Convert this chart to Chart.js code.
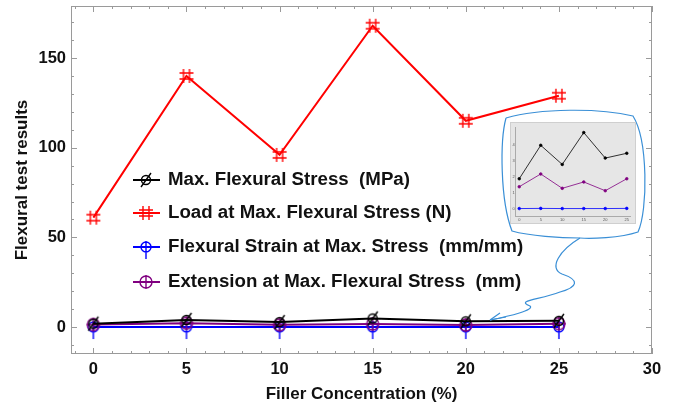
<!DOCTYPE html>
<html>
<head>
<meta charset="utf-8">
<script src="https://cdn.jsdelivr.net/npm/chart.js@4.4.0/dist/chart.umd.min.js"></script>
<style>
  body { margin: 0; background: #fff; }
  #wrap { position: relative; width: 675px; height: 407px; }
  #inset { position: absolute; left: 510px; top: 122px; width: 126px; height: 102px; background: #e6e6e6; border: 1px solid #cfcfcf; box-sizing: border-box; }
</style>
</head>
<body>
<div id="wrap">
  <canvas id="main" width="675" height="407"></canvas>
  <div id="inset"><canvas id="mini"></canvas></div>
</div>
<script>
const concentration = [0, 5, 10, 15, 20, 25];
const maxStress = [1.9, 4.0, 2.8, 4.8, 3.2, 3.5];
const loadAtMax = [61, 140, 96, 168, 115, 129];
const strainAtMax = [0.03, 0.04, 0.03, 0.03, 0.03, 0.04];
const extension = [1.4, 2.2, 1.3, 1.7, 1.15, 1.9];
const xTicks = [0, 5, 10, 15, 20, 25, 30];
const yTicks = [0, 50, 100, 150];
const seriesNames = [
  "Max. Flexural Stress  (MPa)",
  "Load at Max. Flexural Stress (N)",
  "Flexural Strain at Max. Stress  (mm/mm)",
  "Extension at Max. Flexural Stress  (mm)"
];

const font = "'Liberation Sans', Arial, sans-serif";

function makeMarker(kind, color) {
  const c = document.createElement("canvas");
  c.width = 18; c.height = kind === "phi" ? 30 : 18;
  const g = c.getContext("2d");
  const cx = 9, cy = c.height / 2;
  g.strokeStyle = color;
  g.lineWidth = 1.4;
  g.beginPath();
  if (kind === "slash") {
    g.arc(cx, cy, 4.5, 0, Math.PI * 2);
    g.moveTo(cx - 5, cy + 7); g.lineTo(cx + 5, cy - 7);
  } else if (kind === "hash") {
    g.moveTo(cx - 3, cy - 7); g.lineTo(cx - 3, cy + 7);
    g.moveTo(cx + 3, cy - 7); g.lineTo(cx + 3, cy + 7);
    g.moveTo(cx - 7, cy - 3); g.lineTo(cx + 7, cy - 3);
    g.moveTo(cx - 7, cy + 3); g.lineTo(cx + 7, cy + 3);
  } else if (kind === "phi") {
    g.arc(cx, cy, 5, 0, Math.PI * 2);
    g.moveTo(cx, cy - 6); g.lineTo(cx, cy + 12);
  } else {
    g.arc(cx, cy, 6, 0, Math.PI * 2);
    g.moveTo(cx - 7, cy); g.lineTo(cx + 7, cy);
    g.moveTo(cx, cy - 7); g.lineTo(cx, cy + 7);
  }
  g.stroke();
  return c;
}

const colors = ["#000000", "#ff0000", "#0000ff", "#800080"];
const drawOrder = [0, 1, 3, 2];
const markers = [
  makeMarker("slash", colors[0]),
  makeMarker("hash", colors[1]),
  makeMarker("phi", colors[2]),
  makeMarker("plus", colors[3])
];
const values = [maxStress, loadAtMax, strainAtMax, extension];

// frame, inward ticks, legend and callout
const decor = {
  id: "decor",
  afterDraw(chart) {
    const ctx = chart.ctx;
    const a = chart.chartArea;
    const xs = chart.scales.x, ys = chart.scales.y;
    ctx.save();
    ctx.strokeStyle = "#9a9a9a";
    ctx.lineWidth = 1;
    ctx.strokeRect(a.left + 0.5, a.top + 0.5, a.right - a.left - 1, a.bottom - a.top - 1);
    ctx.beginPath();
    for (let v = -1; v <= 30; v++) {
      const px = Math.round(xs.getPixelForValue(v)) + 0.5;
      const len = v % 5 === 0 ? 6 : 3;
      ctx.moveTo(px, a.bottom); ctx.lineTo(px, a.bottom - len);
      ctx.moveTo(px, a.top); ctx.lineTo(px, a.top + len);
    }
    for (let v = -10; v <= 170; v += 10) {
      const py = Math.round(ys.getPixelForValue(v)) + 0.5;
      const len = v % 50 === 0 ? 6 : 3;
      ctx.moveTo(a.left, py); ctx.lineTo(a.left + len, py);
      ctx.moveTo(a.right, py); ctx.lineTo(a.right - len, py);
    }
    ctx.stroke();

    // legend
    const legendY = [180, 213, 247, 282];
    ctx.font = "bold 18.7px " + font;
    ctx.textBaseline = "middle";
    ctx.textAlign = "left";
    for (let i = 0; i < 4; i++) {
      ctx.strokeStyle = colors[i];
      ctx.lineWidth = 2;
      ctx.beginPath();
      ctx.moveTo(133, legendY[i]); ctx.lineTo(160, legendY[i]);
      ctx.stroke();
      const m = markers[i];
      ctx.drawImage(m, 146 - m.width / 2, legendY[i] - m.height / 2);
      ctx.fillStyle = "#111";
      ctx.fillText(seriesNames[i], 168, legendY[i]);
    }

    // callout outline
    ctx.strokeStyle = "#3a8fd6";
    ctx.lineWidth = 1.2;
    ctx.beginPath();
    ctx.moveTo(506, 118);
    ctx.bezierCurveTo(540, 108, 600, 108, 633, 116);
    ctx.bezierCurveTo(648, 140, 648, 210, 638, 232);
    ctx.bezierCurveTo(620, 238, 590, 239, 580, 238);
    ctx.bezierCurveTo(560, 238, 530, 236, 512, 231);
    ctx.bezierCurveTo(500, 200, 500, 140, 506, 118);
    ctx.stroke();
    ctx.beginPath();
    ctx.moveTo(580, 238);
    ctx.bezierCurveTo(560, 250, 548, 268, 562, 274);
    ctx.bezierCurveTo(580, 280, 578, 287, 560, 292);
    ctx.bezierCurveTo(540, 300, 515, 300, 530, 306);
    ctx.bezierCurveTo(535, 310, 510, 316, 490, 320);
    ctx.stroke();
    ctx.beginPath();
    ctx.moveTo(490, 320); ctx.lineTo(500, 313);
    ctx.moveTo(490, 320); ctx.lineTo(506, 317);
    ctx.stroke();
    ctx.restore();
  }
};

new Chart(document.getElementById("main"), {
  type: "line",
  data: {
    datasets: values.map((vals, i) => ({
      label: seriesNames[i],
      data: concentration.map((x, j) => ({ x, y: vals[j] })),
      borderColor: colors[i],
      borderWidth: 2,
      pointStyle: markers[i],
      order: drawOrder[i],
      tension: 0,
      fill: false
    }))
  },
  options: {
    responsive: false,
    animation: false,
    layout: { padding: { top: 5, right: 23, left: 0, bottom: 0 } },
    plugins: { legend: { display: false }, tooltip: { enabled: false } },
    scales: {
      x: {
        type: "linear",
        min: -1.2,
        max: 30,
        afterBuildTicks: s => { s.ticks = xTicks.map(v => ({ value: v })); },
        afterFit: s => { s.height = 53; s.paddingLeft = 0; s.paddingRight = 0; },
        grid: { display: false, drawTicks: false },
        border: { display: false },
        ticks: { color: "#111", font: { family: font, size: 16.5, weight: "bold" }, padding: 6 },
        title: { display: true, text: "Filler Concentration (%)", color: "#111", font: { family: font, size: 17, weight: "bold" }, padding: { top: 0, bottom: 2 } }
      },
      y: {
        min: -15,
        max: 179,
        afterBuildTicks: s => { s.ticks = yTicks.map(v => ({ value: v })); },
        afterFit: s => { s.width = 71; s.paddingTop = 0; s.paddingBottom = 0; },
        grid: { display: false, drawTicks: false },
        border: { display: false },
        ticks: { color: "#111", font: { family: font, size: 16.5, weight: "bold" }, padding: 5 },
        title: { display: true, text: "Flexural test results", color: "#111", font: { family: font, size: 17, weight: "bold" }, padding: { top: 12, bottom: 0 } }
      }
    }
  },
  plugins: [decor]
});

// inset zoom of the small series
const miniTicksX = [0, 5, 10, 15, 20, 25];
const miniTicksY = [0, 1, 2, 3, 4];
const miniCanvas = document.getElementById("mini");
miniCanvas.width = 124; miniCanvas.height = 100;
new Chart(miniCanvas, {
  type: "line",
  data: {
    datasets: [0, 3, 2].map(i => ({
      data: concentration.map((x, j) => ({ x, y: values[i][j] })),
      borderColor: colors[i],
      borderWidth: 0.8,
      pointRadius: 1.3,
      pointBackgroundColor: colors[i],
      pointBorderColor: colors[i],
      tension: 0
    }))
  },
  options: {
    responsive: false,
    animation: false,
    layout: { padding: { top: 2, right: 3, left: 0, bottom: 0 } },
    plugins: { legend: { display: false }, tooltip: { enabled: false } },
    scales: {
      x: {
        type: "linear", min: -0.8, max: 25.8,
        afterBuildTicks: s => { s.ticks = miniTicksX.map(v => ({ value: v })); },
        grid: { display: false, drawTicks: false },
        border: { color: "#aaa" },
        ticks: { color: "#555", font: { family: font, size: 4 }, padding: 1, maxRotation: 0 }
      },
      y: {
        min: -0.45, max: 5.1,
        afterBuildTicks: s => { s.ticks = miniTicksY.map(v => ({ value: v })); },
        grid: { display: false, drawTicks: false },
        border: { color: "#aaa" },
        ticks: { color: "#555", font: { family: font, size: 4 }, padding: 1 }
      }
    }
  }
});
</script>
</body>
</html>
